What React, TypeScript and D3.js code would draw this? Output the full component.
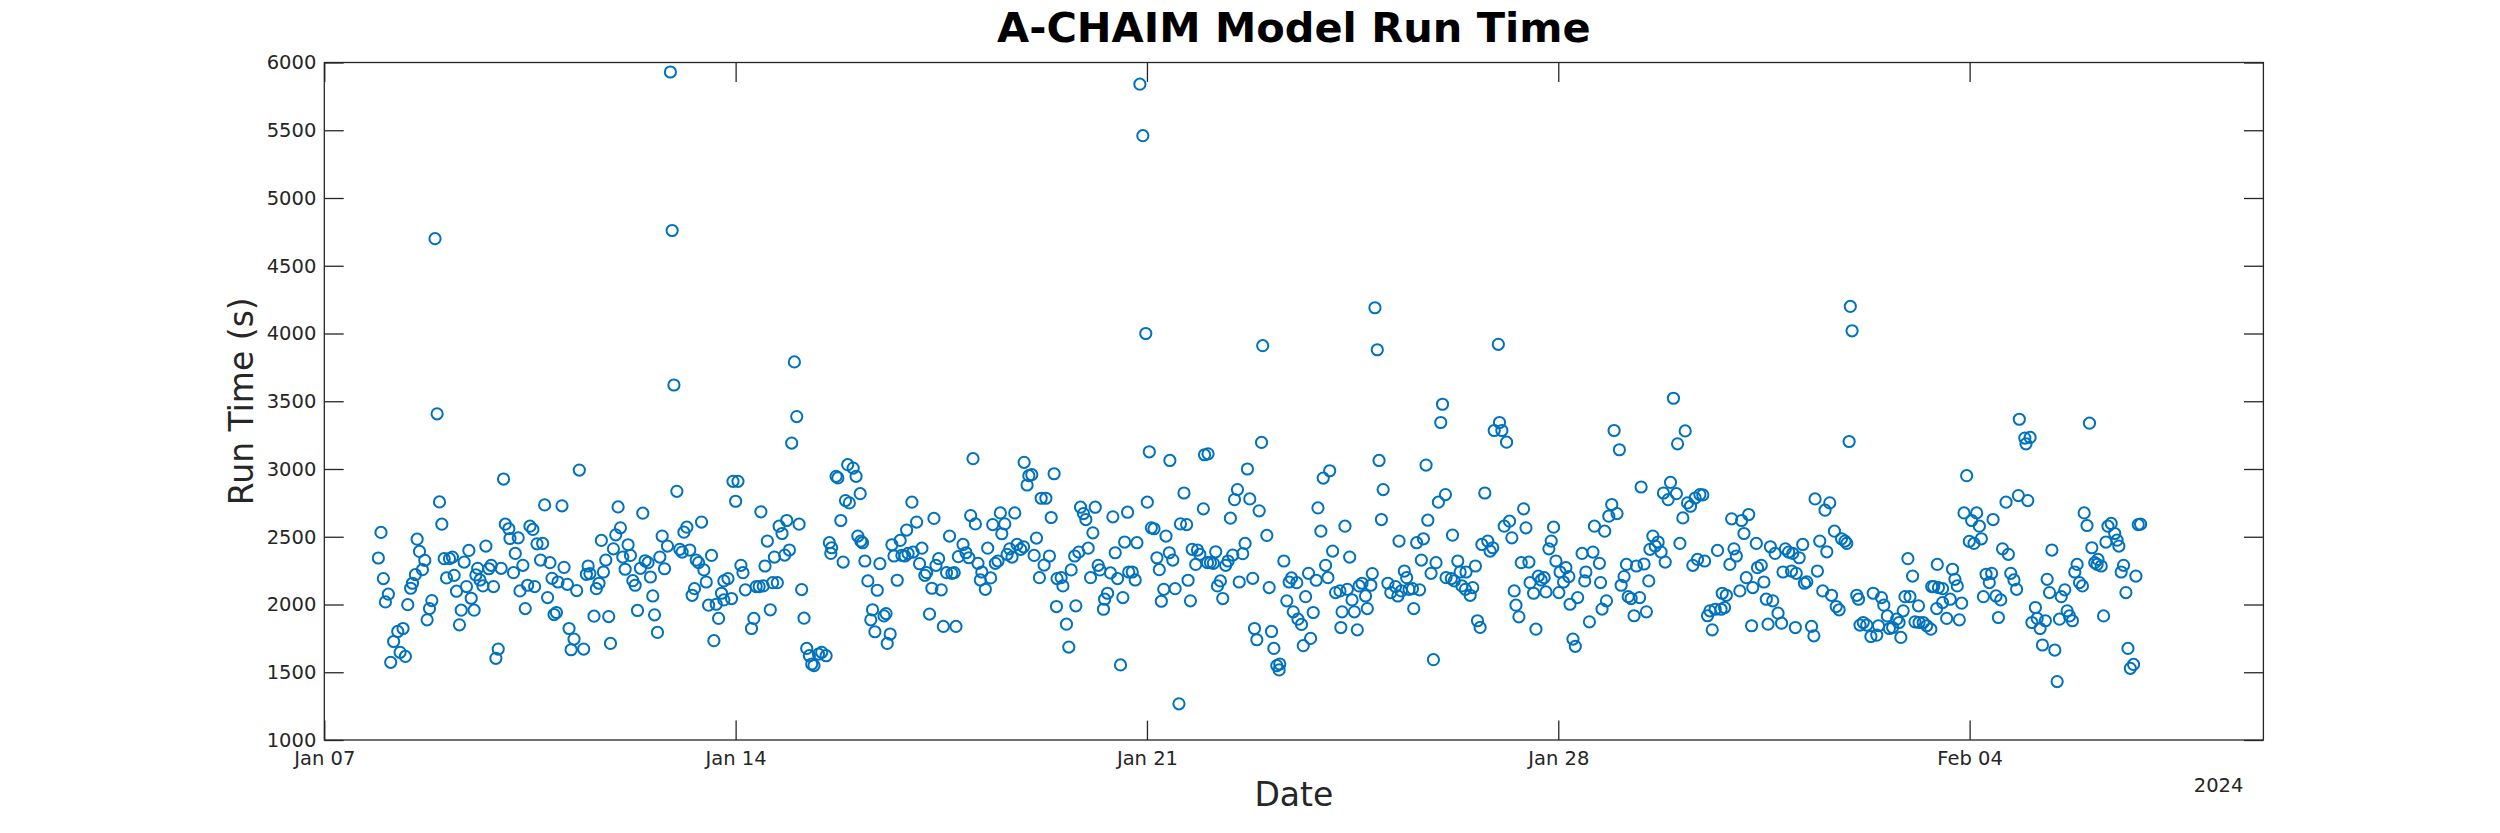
import React, { useEffect, useRef } from "react";
import * as d3 from "d3";

// [days since Jan 07 2024 00:00, run time in seconds]
const week1: [number, number][] = [
  [0.92, 2343], [0.965, 2532], [1.005, 2191], [1.04, 2019], [1.09, 2076], [1.13, 1573], [1.18, 1727], [1.25, 1801],
  [1.29, 1647], [1.34, 1823], [1.38, 1617], [1.42, 1999], [1.47, 2120], [1.5, 2157], [1.55, 2220], [1.58, 2482],
  [1.62, 2392], [1.67, 2257], [1.71, 2326], [1.75, 1887], [1.79, 1970], [1.83, 2029], [1.884, 4700], [1.92, 3407],
  [1.96, 2757], [2.0, 2593], [2.04, 2338], [2.08, 2196], [2.13, 2338], [2.18, 2350], [2.21, 2215], [2.25, 2098],
  [2.3, 1850], [2.33, 1958], [2.38, 2313], [2.42, 2132], [2.46, 2399], [2.5, 2046], [2.55, 1958], [2.58, 2218],
  [2.61, 2267], [2.65, 2181], [2.7, 2137], [2.75, 2431], [2.8, 2264], [2.84, 2289], [2.88, 2132], [2.92, 1603],
  [2.96, 1671], [3.01, 2267], [3.05, 2926], [3.08, 2593], [3.14, 2559], [3.16, 2487], [3.22, 2235], [3.25, 2377],
  [3.3, 2492], [3.33, 2100], [3.38, 2289], [3.42, 1970], [3.46, 2142], [3.5, 2578], [3.55, 2554], [3.58, 2132],
  [3.62, 2448], [3.68, 2328], [3.716, 2451], [3.75, 2735], [3.8, 2051], [3.84, 2309], [3.875, 2193], [3.91, 1926],
  [3.95, 1941], [3.977, 2166], [4.045, 2728], [4.08, 2274], [4.136, 2149], [4.165, 1823], [4.2, 1666], [4.25, 1745],
  [4.295, 2103], [4.34, 2992], [4.414, 1671], [4.46, 2223], [4.49, 2284], [4.52, 2228], [4.59, 1914], [4.63, 2117],
  [4.675, 2157], [4.715, 2473], [4.75, 2240], [4.79, 2328], [4.84, 1911], [4.87, 1713], [4.92, 2411], [4.96, 2514],
  [5.0, 2720], [5.04, 2566], [5.08, 2350], [5.12, 2260], [5.17, 2441], [5.21, 2362], [5.25, 2176], [5.29, 2142],
  [5.33, 1956], [5.38, 2267], [5.42, 2674], [5.46, 2323], [5.51, 2309], [5.55, 2203], [5.59, 2063], [5.62, 1924],
  [5.67, 1794], [5.71, 2350], [5.75, 2505], [5.79, 2264], [5.84, 2431], [5.89, 5930], [5.92, 4760], [5.95, 3620],
  [6.0, 2835], [6.05, 2407], [6.09, 2387], [6.12, 2534], [6.17, 2571], [6.22, 2402], [6.26, 2068], [6.3, 2117],
  [6.33, 2328], [6.37, 2309], [6.42, 2608], [6.46, 2255], [6.5, 2166], [6.54, 1995], [6.59, 2362], [6.63, 1733],
  [6.67, 2002], [6.71, 1897], [6.76, 2083], [6.8, 2034], [6.8, 2174], [6.87, 2191], [6.93, 2044], [6.955, 2909],
];

const week2: [number, number][] = [
  [7.0, 2762], [7.04, 2909], [7.09, 2289], [7.125, 2235], [7.165, 2108], [7.27, 1823], [7.31, 1897], [7.35, 2132],
  [7.4, 2132], [7.43, 2684], [7.47, 2137], [7.5, 2284], [7.54, 2468], [7.59, 1961], [7.63, 2161], [7.66, 2350],
  [7.71, 2161], [7.74, 2578], [7.79, 2524], [7.835, 2365], [7.87, 2620], [7.915, 2402], [7.954, 3191], [8.0, 3790],
  [8.04, 3387], [8.08, 2593], [8.124, 2110], [8.164, 1899], [8.21, 1676], [8.255, 1622], [8.295, 1561], [8.334, 1549],
  [8.41, 1634], [8.465, 1647], [8.54, 1622], [8.595, 2456], [8.62, 2377], [8.634, 2419], [8.71, 2946], [8.74, 2934],
  [8.79, 2620], [8.83, 2313], [8.87, 2767], [8.907, 3032], [8.935, 2750], [9.0, 3007], [9.05, 2946], [9.08, 2505],
  [9.12, 2818], [9.13, 2468], [9.16, 2456], [9.2, 2321], [9.25, 2174], [9.3, 1887], [9.33, 1961], [9.37, 1799],
  [9.41, 2105], [9.455, 2301], [9.525, 1916], [9.56, 1933], [9.58, 1713], [9.63, 1782], [9.66, 2441], [9.695, 2358],
  [9.75, 2179], [9.8, 2473], [9.83, 2362], [9.88, 2358], [9.91, 2549], [9.935, 2377], [10.0, 2755], [10.02, 2387],
  [10.08, 2608], [10.13, 2301], [10.17, 2416], [10.22, 2215], [10.25, 2235], [10.3, 1929], [10.34, 2120], [10.375, 2635],
  [10.41, 2289], [10.455, 2338], [10.5, 2108], [10.535, 1838], [10.59, 2235], [10.64, 2505], [10.68, 2230], [10.72, 2235],
  [10.75, 1838], [10.79, 2353], [10.87, 2443], [10.92, 2382], [10.97, 2345], [11.0, 2656], [11.04, 3076], [11.08, 2595],
  [11.125, 2304], [11.165, 2181], [11.19, 2240], [11.25, 2112], [11.29, 2416], [11.34, 2196], [11.375, 2590], [11.42, 2304],
  [11.465, 2321], [11.505, 2676], [11.53, 2522], [11.58, 2595], [11.62, 2370], [11.664, 2411], [11.704, 2350], [11.75, 2676],
  [11.79, 2443], [11.85, 2407], [11.9, 2426], [11.91, 3049], [11.96, 2882], [11.99, 2951], [12.04, 2958], [12.08, 2362],
  [12.12, 2490], [12.17, 2198], [12.2, 2784], [12.25, 2291], [12.28, 2784], [12.34, 2358], [12.37, 2642], [12.42, 2965],
  [12.46, 1985], [12.47, 2191], [12.54, 2198], [12.57, 2137], [12.63, 1855], [12.67, 1686], [12.71, 2255], [12.77, 2358],
  [12.79, 1990], [12.84, 2387], [12.87, 2718], [12.92, 2671], [12.96, 2627], [13.0, 2416], [13.04, 2198], [13.08, 2529],
  [13.12, 2718], [13.17, 2289], [13.2, 2255], [13.26, 1965], [13.28, 2039], [13.33, 2083], [13.38, 2233], [13.42, 2647],
  [13.46, 2382], [13.5, 2191], [13.55, 1554], [13.59, 2051], [13.62, 2461], [13.67, 2681], [13.69, 2240], [13.75, 2240],
  [13.8, 2181], [13.83, 2456], [13.88, 5840], [13.93, 5460], [13.98, 4000],
];

const week3: [number, number][] = [
  [14.006, 2755], [14.04, 3127], [14.075, 2566], [14.12, 2559], [14.17, 2345], [14.21, 2257], [14.245, 2024], [14.286, 2112],
  [14.324, 2505], [14.38, 2382], [14.39, 3063], [14.44, 2328], [14.48, 2117], [14.545, 1267], [14.57, 2595], [14.63, 2823],
  [14.675, 2590], [14.7, 2179], [14.74, 2027], [14.77, 2407], [14.83, 2296], [14.86, 2402], [14.9, 2370], [14.96, 2706],
  [14.98, 3105], [15.03, 2309], [15.04, 3112], [15.08, 2309], [15.13, 2304], [15.17, 2389], [15.2, 2137], [15.25, 2174],
  [15.29, 2044], [15.34, 2289], [15.38, 2321], [15.42, 2637], [15.46, 2365], [15.49, 2774], [15.54, 2848], [15.57, 2166],
  [15.63, 2375], [15.67, 2451], [15.71, 3000], [15.75, 2779], [15.8, 2193], [15.83, 1823], [15.87, 1740], [15.91, 2691],
  [15.95, 3196], [15.97, 3910], [16.04, 2510], [16.08, 2125], [16.12, 1801], [16.16, 1676], [16.21, 1549], [16.25, 1517],
  [16.26, 1561], [16.33, 2321], [16.38, 2027], [16.42, 2166], [16.46, 2196], [16.49, 1946], [16.55, 2161], [16.57, 1892],
  [16.63, 1853], [16.66, 1696], [16.7, 2058], [16.75, 2230], [16.785, 1750], [16.83, 1941], [16.88, 2179], [16.91, 2713],
  [16.96, 2541], [17.0, 2933], [17.04, 2289], [17.08, 2198], [17.11, 2987], [17.16, 2394], [17.21, 2088], [17.285, 2100],
  [17.3, 1830], [17.32, 1946], [17.37, 2578], [17.41, 2112], [17.45, 2350], [17.49, 2034], [17.53, 1946], [17.58, 1813],
  [17.61, 2137], [17.66, 2157], [17.72, 2063], [17.75, 1970], [17.81, 2142], [17.835, 2228], [17.88, 4190], [17.92, 3880],
  [17.95, 3063], [17.99, 2627], [18.02, 2848], [18.1, 2157], [18.15, 2088], [18.23, 2132], [18.27, 2063], [18.29, 2468],
  [18.33, 2100], [18.38, 2247], [18.42, 2198], [18.46, 2112], [18.52, 2117], [18.54, 1970], [18.59, 2456], [18.64, 2108],
  [18.67, 2328], [18.705, 2485], [18.75, 3029], [18.78, 2622], [18.835, 2230], [18.875, 1593], [18.92, 2309], [18.96, 2755],
  [19.0, 3343], [19.03, 3478], [19.08, 2811], [19.09, 2198], [19.18, 2191], [19.2, 2512], [19.23, 2174], [19.29, 2321],
  [19.33, 2240], [19.36, 2137], [19.42, 2112], [19.43, 2240], [19.5, 2068], [19.545, 2125], [19.59, 2284], [19.625, 1880],
  [19.67, 1831], [19.7, 2443], [19.75, 2823], [19.8, 2468], [19.84, 2394], [19.885, 2419], [19.91, 3284], [19.98, 3920],
  [20.0, 3343], [20.04, 3284], [20.08, 2578], [20.12, 3198], [20.17, 2615], [20.21, 2492], [20.25, 2100], [20.28, 1995],
  [20.33, 1909], [20.37, 2309], [20.41, 2706], [20.45, 2566], [20.5, 2313], [20.52, 2161], [20.58, 2083], [20.62, 1818],
  [20.66, 2210], [20.71, 2181], [20.76, 2198], [20.79, 2093], [20.84, 2411], [20.88, 2468], [20.92, 2571], [20.96, 2321],
];

const week4: [number, number][] = [
  [21.01, 2088], [21.03, 2240], [21.09, 2166], [21.13, 2272], [21.18, 2206], [21.2, 2002], [21.25, 1745], [21.29, 1691],
  [21.33, 2051], [21.405, 2377], [21.45, 2174], [21.47, 2240], [21.53, 1872], [21.59, 2387], [21.615, 2578], [21.7, 2304],
  [21.72, 2162], [21.745, 1966], [21.79, 2541], [21.82, 2027], [21.86, 2652], [21.91, 2738], [21.95, 3284], [22.0, 2671],
  [22.04, 3142], [22.07, 2142], [22.12, 2206], [22.16, 2296], [22.19, 2058], [22.24, 2044], [22.29, 1917], [22.33, 2284],
  [22.385, 2051], [22.41, 2867], [22.46, 2299], [22.5, 1946], [22.54, 2174], [22.56, 2407], [22.61, 2505], [22.65, 2431],
  [22.7, 2461], [22.75, 2387], [22.79, 2823], [22.82, 2313], [22.87, 2774], [22.91, 2901], [22.96, 3522], [23.01, 2818],
  [23.03, 3186], [23.07, 2451], [23.12, 2639], [23.16, 3281], [23.2, 2750], [23.25, 2725], [23.29, 2289], [23.33, 2786],
  [23.37, 2333], [23.41, 2811], [23.46, 2809], [23.49, 2321], [23.54, 1917], [23.58, 1953], [23.62, 1813], [23.67, 1965],
  [23.71, 2399], [23.77, 1965], [23.79, 2083], [23.83, 1977], [23.86, 2068], [23.92, 2296], [23.95, 2632], [23.99, 2411],
  [24.03, 2358], [24.09, 2100], [24.12, 2620], [24.16, 2524], [24.2, 2198], [24.24, 2664], [24.29, 1843], [24.31, 2125],
  [24.37, 2451], [24.39, 2272], [24.455, 2289], [24.5, 2166], [24.54, 2039], [24.57, 1855], [24.61, 2426], [24.65, 2027],
  [24.69, 2377], [24.74, 1936], [24.8, 1862], [24.825, 2240], [24.865, 2411], [24.92, 2387], [24.97, 2247], [24.99, 2377],
  [25.035, 1830], [25.05, 2230], [25.1, 2345], [25.16, 2443], [25.19, 2157], [25.23, 2167], [25.31, 1838], [25.35, 1769],
  [25.37, 2779], [25.41, 2247], [25.45, 2468], [25.5, 2100], [25.54, 2696], [25.57, 2389], [25.62, 2750], [25.65, 2068],
  [25.7, 2541], [25.73, 1985], [25.78, 1961], [25.82, 2485], [25.88, 2468], [25.91, 2451], [25.95, 3203], [25.97, 4200],
  [26.0, 4020], [26.08, 2068], [26.11, 2039], [26.135, 1848], [26.19, 1867], [26.25, 1848], [26.32, 1764], [26.36, 2083],
  [26.42, 1774], [26.45, 1843], [26.5, 2051], [26.54, 1995], [26.6, 1916], [26.635, 1823], [26.69, 1830], [26.76, 1892],
  [26.8, 1867], [26.83, 1757], [26.87, 1953], [26.9, 2058], [26.95, 2338], [26.985, 2058], [27.03, 2210], [27.07, 1872],
  [27.13, 1990], [27.14, 1867], [27.21, 1867], [27.27, 1843], [27.34, 1818], [27.355, 2132], [27.39, 2132], [27.44, 1970],
  [27.45, 2296], [27.47, 2125], [27.54, 2117], [27.54, 2014], [27.61, 1897], [27.67, 2039], [27.71, 2260], [27.75, 2186],
  [27.79, 2137], [27.825, 1887], [27.865, 2010], [27.905, 2676], [27.95, 2951], [27.995, 2466],
];

const week5: [number, number][] = [
  [28.035, 2620], [28.075, 2451], [28.12, 2676], [28.166, 2578], [28.2, 2485], [28.235, 2058], [28.28, 2223], [28.335, 2162],
  [28.375, 2230], [28.4, 2627], [28.45, 2063], [28.49, 1904], [28.53, 2034], [28.56, 2411], [28.62, 2755], [28.66, 2370],
  [28.7, 2230], [28.755, 2181], [28.8, 2112], [28.83, 2804], [28.846, 3367], [28.94, 3228], [28.96, 3186], [28.99, 2767],
  [29.03, 3233], [29.06, 1867], [29.12, 1978], [29.15, 1897], [29.2, 1823], [29.24, 1701], [29.29, 1880], [29.32, 2186],
  [29.36, 2088], [29.4, 2402], [29.45, 1664], [29.49, 1431], [29.53, 1892], [29.56, 2058], [29.62, 2108], [29.66, 1953],
  [29.7, 1916], [29.75, 1880], [29.79, 2240], [29.83, 2296], [29.87, 2162], [29.92, 2137], [29.95, 2676], [29.998, 2583],
  [30.04, 3338], [30.08, 2419], [30.13, 2309], [30.17, 2296], [30.185, 2333], [30.24, 2284], [30.28, 1916], [30.32, 2461],
  [30.355, 2578], [30.41, 2598], [30.47, 2524], [30.51, 2475], [30.54, 2431], [30.58, 2240], [30.62, 2289], [30.66, 2088],
  [30.695, 1676], [30.735, 1529], [30.79, 1558], [30.83, 2210], [30.87, 2590], [30.91, 2593],
];

const xTickDays = [0, 7, 14, 21, 28];
const xTickLabels = ["Jan 07", "Jan 14", "Jan 21", "Jan 28", "Feb 04"];
const yTickValues = [1000, 1500, 2000, 2500, 3000, 3500, 4000, 4500, 5000, 5500, 6000];
const yearLabel = "2024";
const titleText = "A-CHAIM Model Run Time";
const xLabelText = "Date";
const yLabelText = "Run Time (s)";

const W = 2500;
const H = 833;
const PLOT = { left: 324.3, right: 2263.4, top: 62.5, bottom: 740 };
const AX = "#262626";
const MARK = "#0072BD";
const FONT = "'DejaVu Sans', sans-serif";
const DAY_MS = 86400000;

export default function App() {
  const ref = useRef<SVGSVGElement | null>(null);

  useEffect(() => {
    if (!ref.current) return;
    const svg = d3.select(ref.current);
    svg.selectAll("*").remove();

    const start = new Date(2024, 0, 7);
    const end = new Date(2024, 1, 9);
    const toDate = (d: number) => new Date(start.getTime() + d * DAY_MS);

    const x = d3.scaleTime().domain([start, end]).range([PLOT.left, PLOT.right]);
    const y = d3.scaleLinear().domain([1000, 6000]).range([PLOT.bottom, PLOT.top]);

    svg.append("rect").attr("x", 0).attr("y", 0).attr("width", W).attr("height", H).attr("fill", "#ffffff");

    const all = [...week1, ...week2, ...week3, ...week4, ...week5];

    const clipId = "plotclip";
    svg.append("clipPath").attr("id", clipId).append("rect")
      .attr("x", PLOT.left).attr("y", PLOT.top)
      .attr("width", PLOT.right - PLOT.left).attr("height", PLOT.bottom - PLOT.top);

    svg.append("g").attr("clip-path", `url(#${clipId})`)
      .selectAll("circle").data(all).enter().append("circle")
      .attr("cx", (d) => x(toDate(d[0])))
      .attr("cy", (d) => y(d[1]))
      .attr("r", 5.6)
      .attr("fill", "none")
      .attr("stroke", MARK)
      .attr("stroke-width", 2);

    const tickLen = 19.4;
    const xTicks = xTickDays.map(toDate);

    const gB = svg.append("g").attr("transform", `translate(0,${PLOT.bottom})`)
      .call(
        d3.axisBottom(x).tickValues(xTicks)
          .tickFormat((_d, i) => xTickLabels[i])
          .tickSizeInner(-tickLen).tickSizeOuter(0).tickPadding(11)
      );
    const gT = svg.append("g").attr("transform", `translate(0,${PLOT.top})`)
      .call(d3.axisTop(x).tickValues(xTicks).tickFormat(() => "").tickSizeInner(-tickLen).tickSizeOuter(0));
    const gL = svg.append("g").attr("transform", `translate(${PLOT.left},0)`)
      .call(
        d3.axisLeft(y).tickValues(yTickValues).tickFormat(d3.format("d"))
          .tickSizeInner(-tickLen).tickSizeOuter(0).tickPadding(8)
      );
    const gR = svg.append("g").attr("transform", `translate(${PLOT.right},0)`)
      .call(d3.axisRight(y).tickValues(yTickValues).tickFormat(() => "").tickSizeInner(-tickLen).tickSizeOuter(0));

    [gB, gT, gL, gR].forEach((g) => {
      g.select(".domain").remove();
      g.selectAll(".tick line").attr("stroke", AX).attr("stroke-width", 1.3);
      g.selectAll(".tick text")
        .attr("fill", AX)
        .style("font-family", FONT)
        .style("font-size", "19.5px");
    });

    svg.append("rect")
      .attr("x", PLOT.left).attr("y", PLOT.top)
      .attr("width", PLOT.right - PLOT.left).attr("height", PLOT.bottom - PLOT.top)
      .attr("fill", "none").attr("stroke", AX).attr("stroke-width", 1.3);

    svg.append("text")
      .attr("x", PLOT.right - 20).attr("y", 792)
      .attr("text-anchor", "end")
      .attr("fill", AX)
      .style("font-family", FONT).style("font-size", "19.5px")
      .text(yearLabel);

    const midX = (PLOT.left + PLOT.right) / 2;
    const midY = (PLOT.top + PLOT.bottom) / 2;

    svg.append("text")
      .attr("x", midX).attr("y", 806)
      .attr("text-anchor", "middle")
      .attr("fill", AX)
      .style("font-family", FONT).style("font-size", "33px")
      .text(xLabelText);

    svg.append("text")
      .attr("transform", `translate(253,${midY}) rotate(-90)`)
      .attr("text-anchor", "middle")
      .attr("fill", AX)
      .style("font-family", FONT).style("font-size", "33px")
      .text(yLabelText);

    svg.append("text")
      .attr("x", midX).attr("y", 42)
      .attr("text-anchor", "middle")
      .attr("fill", "#000000")
      .style("font-family", FONT).style("font-size", "41.5px").style("font-weight", "bold")
      .text(titleText);
  }, []);

  return (
    <div style={{ position: "absolute", left: 0, top: 0, width: W, height: H, background: "#fff" }}>
      <svg ref={ref} width={W} height={H} style={{ display: "block" }} />
    </div>
  );
}
